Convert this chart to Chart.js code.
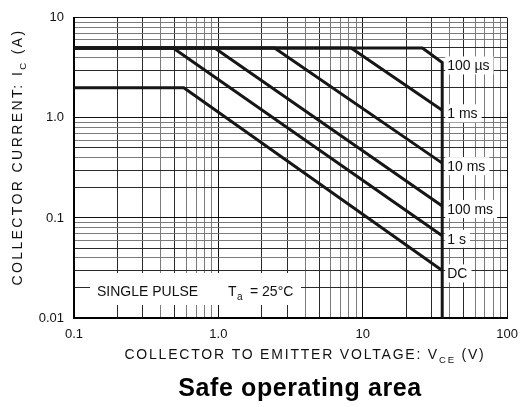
<!DOCTYPE html>
<html>
<head>
<meta charset="utf-8">
<script src="https://cdn.jsdelivr.net/npm/chart.js"></script>
<style>
  html, body { margin: 0; padding: 0; background: #fff; }
  #wrap { width: 527px; height: 407px; }
</style>
</head>
<body>
<div id="wrap"><canvas id="soa"></canvas></div>
<script>
// axis ticks (log, 1..9 per decade) and the labelled decades
const xMajor = [0.1, 1, 10, 100];
const xMajorLabels = ['0.1', '1.0', '10', '100'];
const yMajor = [0.01, 0.1, 1, 10];
const yMajorLabels = ['0.01', '0.1', '1.0', '10'];

// max collector-emitter voltage (V)
const vceMax = 35.5;

// curves: V_CE (V) and I_C (A)
const seriesNames = ['100 µs', '1 ms', '10 ms', '100 ms', '1 s', 'DC'];
const us100V = [0.1, 25.9, vceMax, vceMax];
const us100I = [5, 5, 3.58, 0.01];
const ms1V = [0.1, 8.3, vceMax];
const ms1I = [5, 5, 1.19];
const ms10V = [0.1, 2.45, vceMax];
const ms10I = [5, 5, 0.353];
const ms100V = [0.1, 0.943, vceMax];
const ms100I = [5, 5, 0.1315];
const s1V = [0.1, 0.486, vceMax];
const s1I = [5, 5, 0.0664];
const dcV = [0.1, 0.576, vceMax];
const dcI = [2, 2, 0.0299];

const seriesV = [us100V, ms1V, ms10V, ms100V, s1V, dcV];
const seriesI = [us100I, ms1I, ms10I, ms100I, s1I, dcI];

const FONT = '"Liberation Sans", Arial, Helvetica, sans-serif';

function decadeTicks(lo, hi) {
    const out = [];
    for (let e = Math.round(Math.log10(lo)); e < Math.round(Math.log10(hi)); e++) {
        for (let m = 1; m <= 9; m++) out.push(Number((m * Math.pow(10, e)).toPrecision(3)));
    }
    out.push(hi);
    return out;
}

function mantissa(v) {
    return Math.round(v / Math.pow(10, Math.floor(Math.log10(v) + 1e-9)));
}

function gridColor(ctx) {
    if (!ctx.tick) return '#888';
    const m = mantissa(ctx.tick.value);
    if (m === 1) return '#111';
    if (m === 2 || m === 3 || m === 5) return '#2a2a2a';
    return '#7a7a7a';
}

// draw a run of text pieces, some as subscripts
function drawRich(ctx, parts, x, y, size, spacing) {
    ctx.save();
    ctx.letterSpacing = spacing + 'px';
    ctx.textBaseline = 'middle';
    ctx.textAlign = 'left';
    let total = 0;
    parts.forEach(p => {
        ctx.font = (p.sub ? size * 0.68 : size) + 'px ' + FONT;
        p.w = ctx.measureText(p.t).width;
        total += p.w;
    });
    let cx = x - total / 2;
    parts.forEach(p => {
        ctx.font = (p.sub ? size * 0.68 : size) + 'px ' + FONT;
        ctx.fillText(p.t, cx, p.sub ? y + size * 0.35 : y);
        cx += p.w;
    });
    ctx.restore();
}

const annotations = {
    id: 'annotations',
    afterDatasetsDraw(chart) {
        const ctx = chart.ctx;
        const xs = chart.scales.x, ys = chart.scales.y;
        const area = chart.chartArea;

        // curve labels at the V_CE max line
        ctx.save();
        ctx.font = '14px ' + FONT;
        ctx.textBaseline = 'middle';
        seriesNames.forEach((name, i) => {
            const k = seriesV[i].indexOf(vceMax);
            const px = xs.getPixelForValue(vceMax);
            const py = ys.getPixelForValue(seriesI[i][k]) + 3;
            const w = ctx.measureText(name).width;
            ctx.fillStyle = '#fff';
            ctx.fillRect(px + 3, py - 9, w + 6, 18);
            ctx.fillStyle = '#111';
            ctx.fillText(name, px + 5, py + 1);
        });

        // single pulse / ambient note
        const ny = 292;
        ctx.fillStyle = '#fff';
        ctx.fillRect(area.left + 16, 273, 211, 32);
        ctx.fillStyle = '#111';
        ctx.fillText('SINGLE PULSE', area.left + 23, ny);
        ctx.fillText('T', area.left + 154, ny);
        ctx.font = '10px ' + FONT;
        ctx.fillText('a', area.left + 163, ny + 5);
        ctx.font = '14px ' + FONT;
        ctx.fillText('= 25°C', area.left + 176, ny);
        ctx.restore();
    },
    afterDraw(chart) {
        const ctx = chart.ctx;
        ctx.save();
        ctx.fillStyle = '#111';
        drawRich(ctx, [
            { t: 'COLLECTOR TO EMITTER VOLTAGE: V' },
            { t: 'CE', sub: true },
            { t: ' (V)' }
        ], 305, 355, 14, 1.8);

        ctx.translate(18, 157);
        ctx.rotate(-Math.PI / 2);
        drawRich(ctx, [
            { t: 'COLLECTOR CURRENT: I' },
            { t: 'C', sub: true },
            { t: ' (A)' }
        ], 0, 0, 14, 2.4);
        ctx.restore();

        ctx.save();
        ctx.fillStyle = '#000';
        ctx.font = 'bold 25px ' + FONT;
        ctx.letterSpacing = '0.6px';
        ctx.textAlign = 'center';
        ctx.textBaseline = 'middle';
        ctx.fillText('Safe operating area', 300, 389);
        ctx.restore();
    }
};

const datasets = seriesNames.map((name, i) => ({
    label: name,
    data: seriesV[i].map((v, j) => ({ x: v, y: seriesI[i][j] })),
    borderColor: '#161616',
    borderWidth: 3,
    pointRadius: 0,
    tension: 0,
    fill: false
}));

new Chart(document.getElementById('soa'), {
    type: 'line',
    data: { datasets: datasets },
    plugins: [annotations],
    options: {
        responsive: true,
        maintainAspectRatio: false,
        animation: false,
        layout: { padding: { top: 15, right: 19, left: 0, bottom: 0 } },
        plugins: {
            legend: { display: false },
            tooltip: { enabled: false }
        },
        scales: {
            x: {
                type: 'logarithmic',
                min: 0.1,
                max: 100,
                afterBuildTicks: s => { s.ticks = decadeTicks(0.1, 100).map(v => ({ value: v })); },
                afterFit: s => { s.height = 89; },
                grid: { color: gridColor, lineWidth: 1, drawTicks: false },
                border: { color: '#000', width: 2 },
                ticks: {
                    autoSkip: false,
                    maxRotation: 0,
                    padding: 9,
                    color: '#111',
                    font: { family: FONT, size: 13 },
                    callback: v => {
                        const k = xMajor.findIndex(m => Math.abs(m - v) < m * 1e-6);
                        return k >= 0 ? xMajorLabels[k] : '';
                    }
                }
            },
            y: {
                type: 'logarithmic',
                min: 0.01,
                max: 10,
                afterBuildTicks: s => { s.ticks = decadeTicks(0.01, 10).map(v => ({ value: v })); },
                afterFit: s => { s.width = 74; },
                grid: { color: gridColor, lineWidth: 1, drawTicks: false },
                border: { color: '#000', width: 2 },
                ticks: {
                    autoSkip: false,
                    padding: 10,
                    color: '#111',
                    font: { family: FONT, size: 13 },
                    callback: v => {
                        const k = yMajor.findIndex(m => Math.abs(m - v) < m * 1e-6);
                        return k >= 0 ? yMajorLabels[k] : '';
                    }
                }
            }
        }
    }
});
</script>
</body>
</html>
